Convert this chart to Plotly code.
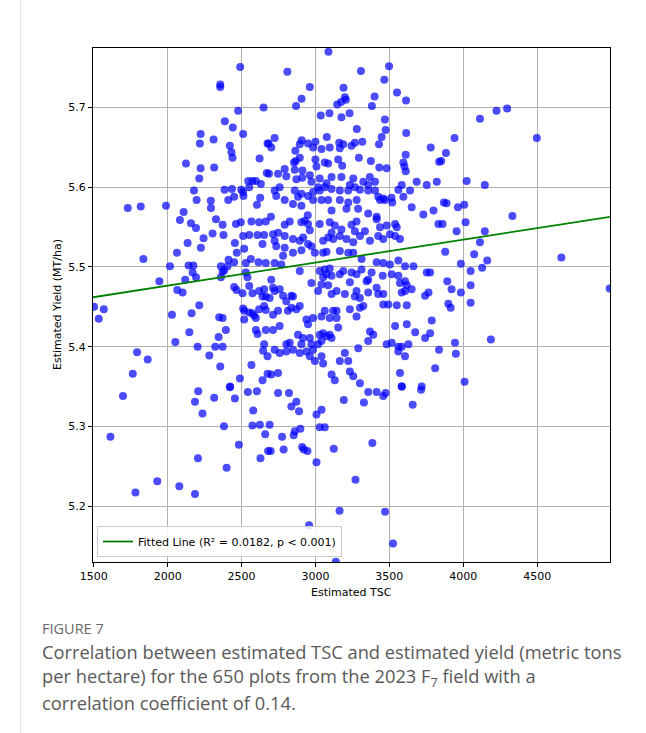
import plotly.graph_objects as go

# ---------------- data ----------------
tsc_a = [2491, 2356, 2356, 2477, 2649, 2387, 2441, 2511, 2223, 2218,
         2311, 2421, 2432, 2439, 2622, 2676, 2124, 2223, 2315, 2214,
         2671, 2545, 2574, 2597, 2631, 2178, 2385, 2435, 2498, 2511,
         2552, 2196, 2292, 2410, 2450, 2513, 2626, 1730, 1818, 1989,
         2108, 2293, 2604]
yld_a = [5.751, 5.729, 5.726, 5.696, 5.700, 5.683, 5.675, 5.667, 5.667, 5.655,
         5.660, 5.652, 5.644, 5.637, 5.636, 5.655, 5.630, 5.624, 5.625, 5.611,
         5.618, 5.608, 5.608, 5.608, 5.604, 5.596, 5.597, 5.598, 5.597, 5.594,
         5.600, 5.584, 5.583, 5.584, 5.588, 5.589, 5.587, 5.574, 5.576, 5.577,
         5.569, 5.574, 5.578]

tsc_b = [3088, 2810, 3308, 3498, 3466, 2962, 3190, 2906, 2869, 3199,
         3206, 3174, 3147, 3400, 3382, 3552, 3613, 3036, 3095, 3176,
         3231, 3470, 3280, 3475, 3614, 2724, 2683, 2701, 3077, 3448,
         3430, 3780, 2907, 2894, 2864, 2950, 3000, 2984, 3041, 3097,
         3161, 3188, 3165, 3244, 3267, 3317, 2855, 2867, 2894, 3000,
         3007, 3063, 3086, 3154, 3181, 3294, 3375, 3432, 3482, 3595,
         3611, 3602, 3611, 3837, 2686, 2747, 2792, 2803, 2860, 2912,
         2910, 2871, 2962, 2973, 3029, 3109, 3176, 3018, 3075, 3109,
         3256, 3233, 3324, 3357, 3368, 3403, 3584, 3685, 3753, 3821,
         2724, 2758, 2860, 2905, 2984, 3029, 3063, 3165, 3222, 3267,
         3301, 3357, 3403, 3425, 3459, 3515, 3561, 3595, 3640, 2735,
         2792, 2848, 2882, 2905, 2950, 2984, 3041, 3086, 3165, 3222,
         3279, 3437, 3470, 3520, 3651, 3730, 3799, 2699, 2948, 3109,
         3210, 3289, 3357, 3414]
yld_b = [5.770, 5.745, 5.746, 5.752, 5.735, 5.726, 5.725, 5.711, 5.702, 5.713,
         5.710, 5.707, 5.704, 5.714, 5.702, 5.719, 5.709, 5.690, 5.693, 5.688,
         5.693, 5.685, 5.673, 5.672, 5.668, 5.662, 5.655, 5.650, 5.663, 5.663,
         5.654, 5.650, 5.659, 5.654, 5.646, 5.655, 5.657, 5.650, 5.648, 5.650,
         5.656, 5.654, 5.649, 5.652, 5.656, 5.657, 5.631, 5.633, 5.637, 5.635,
         5.626, 5.631, 5.630, 5.635, 5.627, 5.637, 5.633, 5.625, 5.624, 5.631,
         5.641, 5.626, 5.620, 5.632, 5.617, 5.617, 5.623, 5.614, 5.622, 5.621,
         5.612, 5.610, 5.615, 5.607, 5.611, 5.613, 5.613, 5.600, 5.605, 5.598,
         5.611, 5.603, 5.607, 5.603, 5.613, 5.607, 5.603, 5.607, 5.603, 5.607,
         5.596, 5.600, 5.596, 5.592, 5.594, 5.596, 5.600, 5.596, 5.596, 5.600,
         5.597, 5.596, 5.596, 5.588, 5.586, 5.587, 5.597, 5.588, 5.596, 5.589,
         5.584, 5.579, 5.588, 5.577, 5.589, 5.584, 5.584, 5.584, 5.584, 5.581,
         5.584, 5.584, 5.584, 5.581, 5.575, 5.566, 5.571, 5.563, 5.565, 5.571,
         5.573, 5.573, 5.567, 5.563]

tsc_c = [4113, 4225, 4297, 3941, 4498, 3883, 3851, 4023, 4146, 3869,
         3887, 3964, 4007, 4333]
yld_c = [5.686, 5.696, 5.699, 5.662, 5.662, 5.643, 5.633, 5.608, 5.603, 5.581,
         5.580, 5.575, 5.578, 5.564]

tsc_d = [2083, 2158, 2192, 2327, 2372, 2462, 2495, 2567, 2619, 2664,
         2243, 2304, 2378, 2135, 2225, 2455, 2511, 2552, 2608, 2653,
         2642, 2063, 2468, 2518, 1836, 2412, 2450, 2563, 2615, 2664,
         2016, 2142, 2174, 2169, 2360, 2383, 2372, 2405, 2529, 2192,
         2119, 1944, 2360, 2529, 2540, 2450, 2466, 2507, 2552, 2574,
         2619, 2653, 2664, 2642, 2065, 2101, 1502, 1568, 1534, 2029,
         2162, 2214, 2349, 2372, 2511, 2518, 2552, 2574, 2585, 2597,
         2619, 2653, 2664, 2518, 2147, 2345, 2394, 2597, 2608, 2664,
         2052, 2203, 2322, 2372, 2282, 2653, 2646, 2676, 1793, 1865,
         1764, 2356, 2567, 2676, 2489, 2642, 2423]
yld_d = [5.559, 5.555, 5.549, 5.560, 5.553, 5.554, 5.556, 5.557, 5.556, 5.557,
         5.536, 5.542, 5.540, 5.530, 5.524, 5.530, 5.539, 5.540, 5.540, 5.540,
         5.529, 5.518, 5.518, 5.523, 5.510, 5.509, 5.506, 5.510, 5.506, 5.505,
         5.501, 5.502, 5.502, 5.493, 5.501, 5.496, 5.494, 5.501, 5.505, 5.487,
         5.484, 5.482, 5.487, 5.493, 5.487, 5.475, 5.471, 5.467, 5.476, 5.467,
         5.470, 5.472, 5.463, 5.463, 5.471, 5.468, 5.450, 5.447, 5.435, 5.440,
         5.442, 5.452, 5.437, 5.436, 5.448, 5.445, 5.443, 5.442, 5.439, 5.436,
         5.447, 5.451, 5.446, 5.434, 5.418, 5.412, 5.421, 5.421, 5.416, 5.421,
         5.406, 5.400, 5.400, 5.400, 5.389, 5.403, 5.395, 5.388, 5.393, 5.384,
         5.366, 5.375, 5.377, 5.366, 5.360, 5.358, 5.350]

tsc_e = [2792, 2826, 2905, 2928, 2950, 2962, 3029, 3097, 3131, 3176,
         3109, 3244, 3278, 3267, 3335, 3301, 3414, 3437, 3482, 3539,
         3550, 3832, 2713, 2747, 2792, 2848, 2894, 2917, 2950, 2973,
         2792, 2735, 2724, 3052, 3086, 3120, 3165, 3210, 3256, 3369,
         3425, 3459, 3504, 3539, 3572, 2996, 3052, 3075, 3165, 3222,
         3256, 2848, 2905, 2781, 2724, 2769, 3312, 3414, 3459, 3504,
         3561, 3606, 3663, 3753, 3776, 2894, 3029, 3063, 3097, 3075,
         3109, 3052, 3165, 3188, 3244, 3312, 3278, 3380, 3357, 3346,
         3455, 3516, 3561, 3572, 3606, 3618, 3651, 2701, 2713, 2724,
         2690, 2758, 2781, 2837, 2803, 2848, 2973, 3041, 3018, 3086,
         3109, 3143, 3199, 3233, 3278, 3267, 3301, 3357, 3425, 3459,
         3414, 3584, 3606, 3742, 3765, 2747, 2713, 2837, 2871, 2894,
         2814, 2939, 2950, 2984, 3041, 3063, 3120, 3143, 3097, 3143,
         3233, 3278, 3301, 3324, 3459, 3493, 3539, 3618, 3550, 3618,
         3787, 2713, 2758, 2882, 2916, 2905, 2962, 2973, 3029, 3052,
         3075, 3097, 3109, 3154, 3018, 3041, 3369, 3391, 3357, 3482,
         3516, 3561, 3584, 3629, 3675, 3742, 3776, 2803, 2826, 2724,
         2758, 2803, 2848, 2894, 2939, 2984, 2962, 2996, 3052, 3041,
         3165, 3199, 3222, 3290, 3561, 3606, 3810, 3572, 3109, 3131,
         3233, 3256, 3301, 2701, 2747, 3584, 3719]
yld_e = [5.553, 5.557, 5.556, 5.558, 5.554, 5.546, 5.554, 5.556, 5.552, 5.547,
         5.543, 5.553, 5.557, 5.545, 5.545, 5.539, 5.560, 5.550, 5.552, 5.554,
         5.550, 5.554, 5.541, 5.543, 5.539, 5.535, 5.533, 5.537, 5.529, 5.526,
         5.524, 5.526, 5.533, 5.533, 5.537, 5.535, 5.539, 5.535, 5.531, 5.533,
         5.539, 5.535, 5.541, 5.539, 5.535, 5.518, 5.518, 5.519, 5.520, 5.518,
         5.518, 5.518, 5.521, 5.514, 5.505, 5.503, 5.510, 5.506, 5.505, 5.503,
         5.508, 5.501, 5.501, 5.493, 5.493, 5.495, 5.495, 5.497, 5.498, 5.491,
         5.489, 5.487, 5.491, 5.495, 5.493, 5.497, 5.491, 5.493, 5.484, 5.482,
         5.489, 5.491, 5.489, 5.480, 5.482, 5.477, 5.472, 5.484, 5.474, 5.470,
         5.461, 5.472, 5.464, 5.464, 5.457, 5.463, 5.480, 5.478, 5.470, 5.477,
         5.466, 5.470, 5.466, 5.481, 5.470, 5.463, 5.461, 5.468, 5.466, 5.466,
         5.474, 5.468, 5.470, 5.464, 5.468, 5.445, 5.440, 5.449, 5.447, 5.451,
         5.445, 5.434, 5.428, 5.436, 5.438, 5.445, 5.445, 5.445, 5.436, 5.436,
         5.447, 5.438, 5.449, 5.451, 5.453, 5.453, 5.426, 5.428, 5.452, 5.452,
         5.433, 5.421, 5.426, 5.415, 5.411, 5.403, 5.411, 5.403, 5.415, 5.417,
         5.413, 5.415, 5.411, 5.424, 5.403, 5.407, 5.419, 5.415, 5.407, 5.403,
         5.405, 5.400, 5.400, 5.403, 5.418, 5.411, 5.417, 5.403, 5.405, 5.396,
         5.392, 5.394, 5.396, 5.392, 5.394, 5.396, 5.388, 5.382, 5.379, 5.388,
         5.382, 5.392, 5.382, 5.398, 5.394, 5.388, 5.373, 5.367, 5.365, 5.358,
         5.369, 5.363, 5.354, 5.365, 5.367, 5.350, 5.350]

tsc_f = [3860, 3955, 4016, 4146, 3878, 4074, 4113, 3984, 4050, 4128,
         4162, 4664, 4991, 3892, 3921, 3984, 4050, 3899, 3915, 4050,
         4187, 3944, 3950, 3836, 4009]
yld_f = [5.554, 5.545, 5.556, 5.545, 5.519, 5.516, 5.531, 5.504, 5.495, 5.499,
         5.508, 5.512, 5.473, 5.482, 5.472, 5.468, 5.477, 5.454, 5.449, 5.455,
         5.409, 5.405, 5.391, 5.396, 5.356]

tsc_g = [1698, 1613, 2207, 2185, 2236, 2315, 2421, 2455, 2543, 2604,
         2579, 2381, 2574, 2624, 2660, 2482, 2680, 2628, 2205, 2399,
         1930, 2079, 1782, 2185]
yld_g = [5.338, 5.287, 5.344, 5.331, 5.316, 5.336, 5.349, 5.335, 5.343, 5.344,
         5.320, 5.300, 5.301, 5.302, 5.290, 5.277, 5.269, 5.260, 5.260, 5.248,
         5.231, 5.225, 5.217, 5.215]

tsc_h = [2747, 2821, 2871, 2837, 2889, 3007, 3041, 3192, 3328, 3357,
         3414, 3459, 3475, 3584, 3715, 3658, 2690, 2774, 2785, 2697,
         2853, 2860, 2898, 2910, 2921, 2946, 3029, 3063, 3007, 3124,
         3385, 3271, 3163, 3471, 2957, 3525, 3138]
yld_h = [5.342, 5.342, 5.331, 5.325, 5.319, 5.315, 5.321, 5.333, 5.330, 5.343,
         5.343, 5.338, 5.342, 5.350, 5.346, 5.327, 5.302, 5.287, 5.271, 5.269,
         5.289, 5.294, 5.297, 5.274, 5.271, 5.269, 5.299, 5.299, 5.255, 5.272,
         5.279, 5.233, 5.194, 5.193, 5.176, 5.153, 5.130]

fit_tsc = [1495, 4993]
fit_yield = [5.462, 5.563]

x_ticks = [1500, 2000, 2500, 3000, 3500, 4000, 4500]
y_ticks = [5.2, 5.3, 5.4, 5.5, 5.6, 5.7]
x_range = [1495, 4993]
y_range = [5.1298, 5.7748]

legend_text = "Fitted Line (R² = 0.0182, p < 0.001)"
x_title = "Estimated TSC"
y_title = "Estimated Yield (MT/ha)"
fig_label = "FIGURE 7"
caption_lines = [
    "Correlation between estimated TSC and estimated yield (metric tons",
    "per hectare) for the 650 plots from the 2023 F<sub>7</sub> field with a",
    "correlation coefficient of 0.14.",
]

# ---------------- assemble ----------------
tsc = tsc_a + tsc_b + tsc_c + tsc_d + tsc_e + tsc_f + tsc_g + tsc_h
yld = yld_a + yld_b + yld_c + yld_d + yld_e + yld_f + yld_g + yld_h
assert len(tsc) == len(yld)

W, H = 646, 733
L, R, T, B = 93, 610, 48, 562


def px(xp):
    return (xp - L) / (R - L)


def py(yp):
    return (B - yp) / (B - T)


fig = go.Figure()
fig.add_trace(go.Scatter(
    x=tsc, y=yld, mode="markers", showlegend=False,
    marker=dict(size=8, color="rgba(0,0,255,0.7)", line=dict(width=0)),
    hoverinfo="skip",
))
fig.add_trace(go.Scatter(
    x=fit_tsc, y=fit_yield, mode="lines", name=legend_text,
    line=dict(color="#008000", width=1.8),
))

axis_common = dict(
    showgrid=True, gridcolor="#b0b0b0", gridwidth=1,
    showline=True, linecolor="black", linewidth=1.2, mirror=True,
    ticks="outside", ticklen=4, tickcolor="black", tickwidth=1,
    tickfont=dict(family="DejaVu Sans", size=11, color="black"),
    zeroline=False,
)
fig.update_xaxes(range=x_range, tickvals=x_ticks,
                 ticktext=[str(v) for v in x_ticks], **axis_common)
fig.update_yaxes(range=y_range, tickvals=y_ticks,
                 ticktext=[f"{v:.1f}" for v in y_ticks], **axis_common)

annotations = [
    dict(text=x_title, x=px(351), y=py(592), xref="paper", yref="paper",
         showarrow=False, xanchor="center", yanchor="middle",
         font=dict(family="DejaVu Sans", size=11, color="black")),
    dict(text=y_title, x=px(57), y=py(305), xref="paper", yref="paper",
         showarrow=False, xanchor="center", yanchor="middle", textangle=-90,
         font=dict(family="DejaVu Sans", size=11, color="black")),
    dict(text=fig_label, x=px(40), y=py(628), xref="paper", yref="paper",
         showarrow=False, xanchor="left", yanchor="middle",
         font=dict(family="Open Sans", size=14.5, color="#6a6a6a")),
]
for i, line in enumerate(caption_lines):
    annotations.append(dict(
        text=line, x=px(40), y=py(651 + 25.5 * i), xref="paper", yref="paper",
        showarrow=False, xanchor="left", yanchor="middle",
        font=dict(family="Open Sans", size=18.3, color="#595959")))

fig.update_layout(
    width=W, height=H, autosize=False,
    margin=dict(l=L, r=W - R, t=T, b=H - B, pad=0),
    paper_bgcolor="white", plot_bgcolor="white",
    showlegend=True,
    legend=dict(x=px(97), y=py(557), xanchor="left", yanchor="bottom",
                bgcolor="rgba(255,255,255,0.85)", bordercolor="#cccccc",
                borderwidth=1, font=dict(family="DejaVu Sans", size=11, color="black"),
                itemwidth=30),
    annotations=annotations,
    shapes=[dict(type="line", xref="paper", yref="paper",
                 x0=px(20.5), x1=px(20.5), y0=py(0), y1=py(H),
                 line=dict(color="#e3e3e3", width=1))],
)

fig.write_html("out.html")
